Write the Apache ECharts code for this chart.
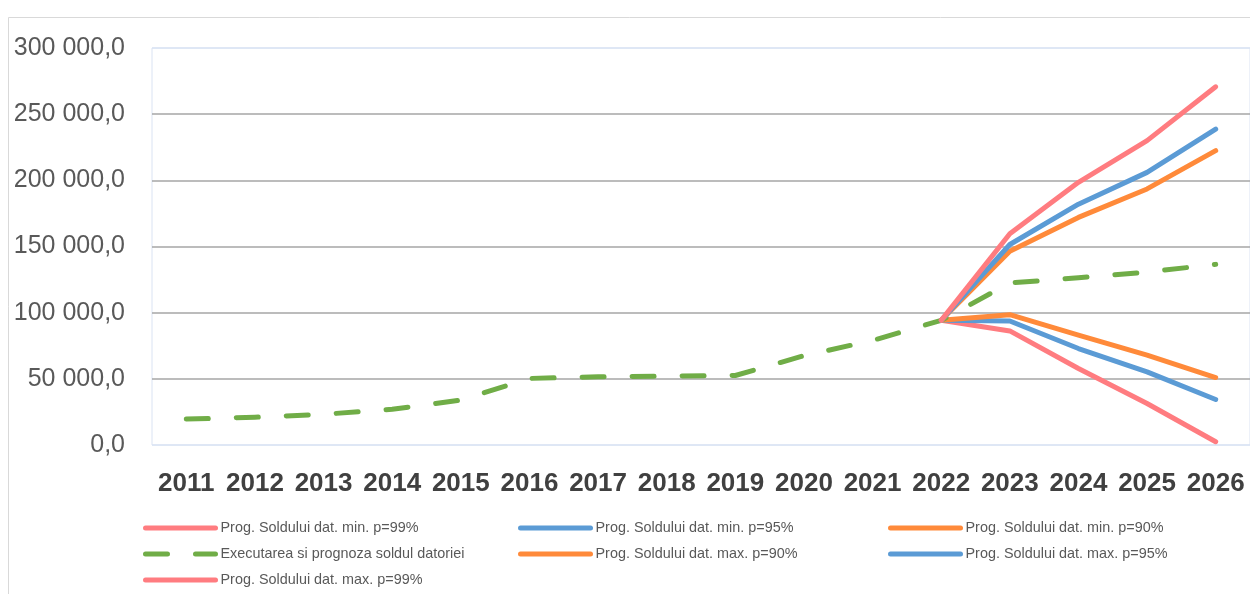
<!DOCTYPE html>
<html>
<head>
<meta charset="utf-8">
<script src="https://cdn.jsdelivr.net/npm/echarts@6/dist/echarts.min.js"></script>
<style>
  html, body { margin: 0; padding: 0; background: #fff; }
  #chart { width: 1250px; height: 594px; }
</style>
</head>
<body>
<div id="chart"></div>
<script>
// ani si valori
var years = ['2011','2012','2013','2014','2015','2016','2017','2018','2019','2020','2021','2022','2023','2024','2025','2026'];
var yTicks = [0, 50000, 100000, 150000, 200000, 250000, 300000];

var executarea = [19600, 21000, 23200, 27000, 34000, 50300, 51500, 52000, 52500, 67500, 79000, 94200, 122400, 126400, 130700, 136500];
var minP99 = [null, null, null, null, null, null, null, null, null, null, null, 94200, 86200, 57800, 31400, 2500];
var minP95 = [null, null, null, null, null, null, null, null, null, null, null, 94200, 93700, 72900, 55300, 34400];
var minP90 = [null, null, null, null, null, null, null, null, null, null, null, 94200, 98500, 83000, 67900, 51000];
var maxP90 = [null, null, null, null, null, null, null, null, null, null, null, 94200, 146500, 172000, 193500, 222400];
var maxP95 = [null, null, null, null, null, null, null, null, null, null, null, 94200, 151500, 182000, 206000, 238700];
var maxP99 = [null, null, null, null, null, null, null, null, null, null, null, 94200, 159600, 198500, 230000, 270700];

var names = [
    'Prog. Soldului dat. min. p=99%',
    'Prog. Soldului dat. min. p=95%',
    'Prog. Soldului dat. min. p=90%',
    'Executarea si prognoza soldul datoriei',
    'Prog. Soldului dat. max. p=90%',
    'Prog. Soldului dat. max. p=95%',
    'Prog. Soldului dat. max. p=99%'
];

var pink = '#FF7C80', blue = '#5B9BD5', orange = '#FF8A3A', green = '#70AD47';

function fmt(v) {
    var s = String(Math.round(v)).replace(/\B(?=(\d{3})+(?!\d))/g, ' ');
    return s + ',0';
}

function line(name, data, color, dashed) {
    return {
        name: name,
        type: 'line',
        data: data,
        symbol: 'none',
        showSymbol: false,
        connectNulls: false,
        itemStyle: { color: color },
        lineStyle: {
            color: color,
            width: 5,
            cap: 'round',
            join: 'round',
            type: dashed ? [22, 28] : 'solid'
        },
        emphasis: { disabled: true }
    };
}

function legendCol(left, data) {
    return {
        orient: 'vertical',
        left: left,
        top: 516,
        itemWidth: 70,
        itemHeight: 14,
        itemGap: 12,
        data: data,
        itemStyle: { opacity: 0 },
        lineStyle: { width: 5, cap: 'round', inactiveWidth: 5 },
        textStyle: { color: '#595959', fontSize: 14.4, fontFamily: 'Liberation Sans' }
    };
}

var chart = echarts.init(document.getElementById('chart'));
var option = {
    animation: false,
    backgroundColor: '#fff',
    graphic: [{
        type: 'rect',
        z: -10,
        shape: { x: 8.5, y: 17.5, width: 1400, height: 700 },
        style: { fill: 'none', stroke: '#d9d9d9', lineWidth: 1 }
    }],
    grid: {
        left: 152, top: 48, right: 0, bottom: 149,
        show: true, borderColor: '#dae3f3', borderWidth: 1
    },
    legend: [
        legendCol(138, [names[0], names[3], names[6]]),
        legendCol(513, [names[1], names[4]]),
        legendCol(883, [names[2], names[5]])
    ],
    xAxis: {
        type: 'category',
        data: years,
        boundaryGap: true,
        axisLine: { show: false },
        axisTick: { show: false },
        axisLabel: {
            interval: 0,
            color: '#404040', fontSize: 26, fontWeight: 'bold',
            fontFamily: 'Liberation Sans', margin: 26
        }
    },
    yAxis: {
        type: 'value',
        min: yTicks[0],
        max: yTicks[yTicks.length - 1],
        interval: yTicks[1] - yTicks[0],
        axisLine: { show: false },
        axisTick: { show: false },
        axisLabel: {
            color: '#595959', fontSize: 25, fontFamily: 'Liberation Sans',
            margin: 27, formatter: fmt
        },
        splitLine: {
            lineStyle: {
                color: ['#dae3f3', '#a6a6a6', '#a6a6a6', '#a6a6a6', '#a6a6a6', '#a6a6a6', '#dae3f3'],
                width: 1.5
            }
        }
    },
    series: [
        line(names[0], minP99, pink),
        line(names[1], minP95, blue),
        line(names[2], minP90, orange),
        line(names[3], executarea, green, true),
        line(names[4], maxP90, orange),
        line(names[5], maxP95, blue),
        line(names[6], maxP99, pink)
    ]
};
chart.setOption(option);
</script>
</body>
</html>
